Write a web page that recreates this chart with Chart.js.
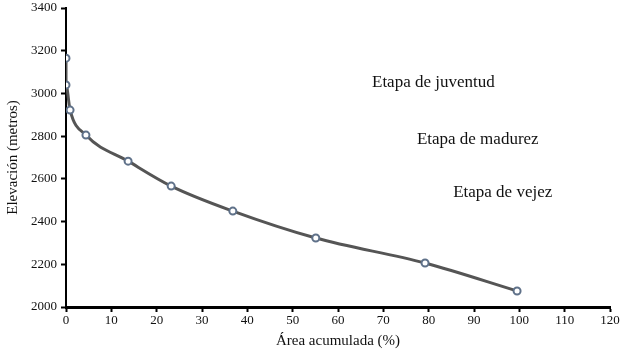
<!DOCTYPE html>
<html>
<head>
<meta charset="utf-8">
<script src="https://cdn.jsdelivr.net/npm/chart.js@4/dist/chart.umd.min.js"></script>
<style>
  body { margin: 0; background: #fff; }
  #wrap { width: 633px; height: 350px; }
</style>
</head>
<body>
<div id="wrap"><canvas id="myChart" width="633" height="350"></canvas></div>
<script>
// values
const areaPct = [0, 0, 0.9, 4.4, 13.7, 23.2, 36.8, 55.1, 79.2, 99.5];
const elevation = [3165, 3040, 2922, 2805, 2683, 2566, 2449, 2323, 2206, 2075];
const stageLabels = ['Etapa de juventud', 'Etapa de madurez', 'Etapa de vejez'];
const stageX = [67.5, 77.4, 85.4];
const stageY = [3053, 2782, 2534];

const serif = '"Liberation Serif", "Times New Roman", serif';

// write stage names at data positions
const stagePlugin = {
    id: 'stages',
    afterDatasetsDraw(chart) {
        const ctx = chart.ctx;
        const xs = chart.scales.x, ys = chart.scales.y;
        ctx.save();
        ctx.font = '17px ' + serif;
        ctx.fillStyle = '#111';
        ctx.textAlign = 'left';
        ctx.textBaseline = 'middle';
        stageLabels.forEach((t, i) => {
            ctx.fillText(t, xs.getPixelForValue(stageX[i]), ys.getPixelForValue(stageY[i]));
        });
        ctx.restore();
    }
};

const points = areaPct.map((a, i) => ({x: a, y: elevation[i]}));

new Chart(document.getElementById('myChart'), {
    type: 'scatter',
    data: {
        datasets: [{
            data: points,
            showLine: true,
            borderColor: '#555555',
            borderWidth: 3,
            cubicInterpolationMode: 'monotone',
            pointRadius: 3.5,
            pointBorderWidth: 2,
            pointBorderColor: '#5f7189',
            pointBackgroundColor: '#ffffff'
        }]
    },
    options: {
        responsive: false,
        animation: false,
        layout: { padding: { left: 4, right: 23, top: 8, bottom: 0 } },
        plugins: { legend: { display: false }, tooltip: { enabled: false } },
        scales: {
            x: {
                type: 'linear',
                min: 0, max: 120,
                ticks: { stepSize: 10, color: '#111', font: { family: serif, size: 13 }, padding: 1, maxRotation: 0 },
                grid: { drawOnChartArea: false, tickLength: 5, tickColor: '#000', tickWidth: 2 },
                border: { color: '#000', width: 3 },
                title: { display: true, text: 'Área acumulada (%)', color: '#111', font: { family: serif, size: 15 }, padding: { top: 2, bottom: 0 } },
                afterFit(scale) { scale.height = 43; }
            },
            y: {
                min: 2000, max: 3400,
                ticks: { stepSize: 200, color: '#111', font: { family: serif, size: 13 }, padding: 4,
                         callback: v => String(v) },
                grid: { drawOnChartArea: false, tickLength: 5, tickColor: '#000', tickWidth: 2 },
                border: { color: '#000', width: 2 },
                title: { display: true, text: 'Elevación (metros)', color: '#111', font: { family: serif, size: 15 }, padding: { top: 0, bottom: 4 } },
                afterFit(scale) { scale.width = 62; scale.paddingTop = 0; }
            }
        }
    },
    plugins: [stagePlugin]
});
</script>
</body>
</html>
